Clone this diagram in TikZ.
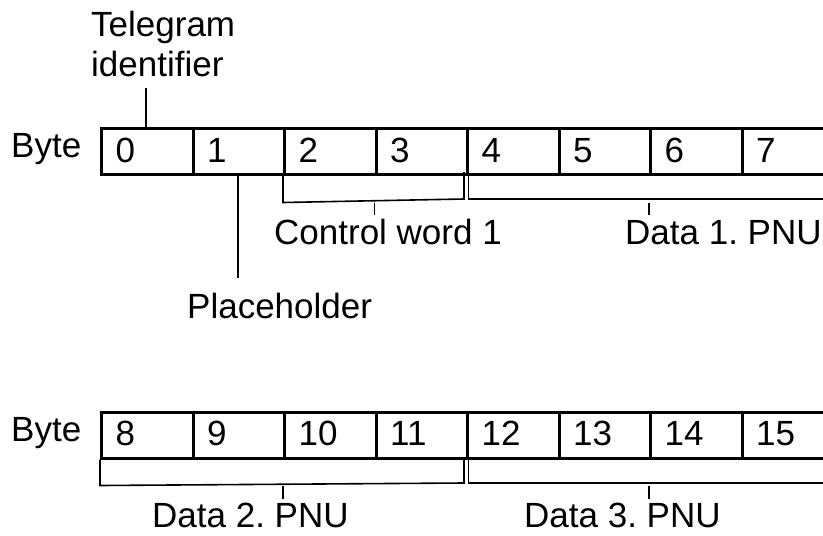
\documentclass[tikz,border=0pt]{standalone}
\usepackage{fontspec}
\setmainfont{Liberation Sans}
\frenchspacing
\begin{document}
\begin{tikzpicture}[x=1pt,y=-1pt,
  every node/.style={font=\fontsize{35}{42}\selectfont, inner sep=0pt},
  cell/.style={draw, line width=3pt, minimum width=91.5pt, minimum height=45.5pt, anchor=north west},
  txt/.style={anchor=base west},
  brace/.style={line width=1.6pt},
  lead/.style={line width=1.6pt}]
\useasboundingbox (0,0) rectangle (823,536);
\clip (0,0) rectangle (823,536);
% row 1
\foreach \i in {0,...,7} {
  \node[cell] (c\i) at ({100+91.5*\i},127) {};
  \node[txt] (d\i) at ({115.5+91.5*\i},162) {\i};
}
% row 2
\foreach \i in {8,...,15} {
  \node[cell] (c\i) at ({100+91.5*(\i-8)},411) {};
  \node[txt] (d\i) at ({115.5+91.5*(\i-8)},445) {\i};
}
\node[txt] (byte1) at (11,157) {Byte};
\node[txt] (byte2) at (11,441.5) {Byte};
\node[txt] (tele) at (91,36.5) {Telegram};
\node[txt] (ident) at (91,76.5) {identifier};
\node[txt] (place) at (187,318) {Placeholder};
\node[txt] (cw) at (274,244) {Control word 1};
\node[txt] (data1) at (625,244) {Data 1. PNU};
\node[txt] (data2) at (152,527) {Data 2. PNU};
\node[txt] (data3) at (524,527) {Data 3. PNU};
% leaders
\coordinate (tl) at (146,88);
\draw[lead] (tl) -- (tl |- c0.north);
\coordinate (pl) at (238,278);
\draw[lead] (pl) -- (pl |- c1.south);
% brackets row 1
\draw[brace] (c2.south west) -- ++(0,27) coordinate (b1a) -- (464,199) -- (464,172);
\draw[brace] (468.5,172) -- (468.5,199) -- (850,199);
\draw[brace] (c3.south west |- b1a) -- ++(0,12);
\draw[brace] (c6.south west |- b1a) -- ++(0,12);
% brackets row 2
\draw[brace] (c8.south west) -- ++(0,26) coordinate (b2a) -- (464,483) -- (464,457);
\draw[brace] (468.5,457) -- (468.5,483) -- (850,483);
\draw[brace] (c10.south west |- b2a) -- ++(0,13);
\draw[brace] (c14.south west |- b2a) -- ++(0,13);
\end{tikzpicture}
\end{document}
